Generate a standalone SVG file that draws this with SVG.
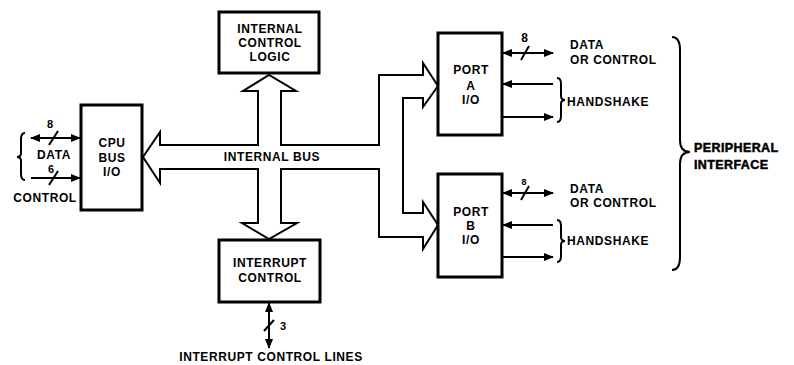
<svg xmlns="http://www.w3.org/2000/svg" width="794" height="365" viewBox="0 0 794 365">
<style>
text{font-family:"Liberation Sans",Arial,sans-serif;font-weight:bold;font-size:12px;letter-spacing:0.6px;fill:#000}
.c{text-anchor:middle}
.box{fill:#fff;stroke:#000;stroke-width:3}
.ln{fill:none;stroke:#000;stroke-width:2}
.bus{fill:#fff;stroke:#000;stroke-width:2;stroke-linejoin:miter}
.heavy{font-size:12.5px;stroke:#000;stroke-width:0.5;letter-spacing:0.4px}
.num{font-size:11px;letter-spacing:0}
</style>
<defs>
<marker id="ah" viewBox="0 0 10 8" refX="9" refY="4" markerWidth="10" markerHeight="8" markerUnits="userSpaceOnUse" orient="auto-start-reverse">
<path d="M0,0 L10,4 L0,8 Z" fill="#000"/>
</marker>
</defs>
<rect width="794" height="365" fill="#fff"/>
<g id="connectors">
<path id="internal-bus" class="bus" d="M143,157 L160,132 L160,145 L258,145 L258,91 L243,91 L269,75 L296,91 L281,91 L281,145 L379,145 L379,75 L423,75 L423,63 L438,86 L423,107 L423,98 L403,98 L403,213 L423,213 L423,202 L438,225 L423,249 L423,237 L379,237 L379,169 L281,169 L281,223 L297,223 L269,239 L242,223 L258,223 L258,169 L160,169 L160,183 Z"/>
<text class="c" x="272" y="161">INTERNAL BUS</text>
<line class="ln" x1="31" y1="138" x2="80" y2="138" marker-start="url(#ah)" marker-end="url(#ah)"/>
<line class="ln" x1="49" y1="145" x2="58" y2="131"/>
<text class="num c" x="50" y="128">8</text>
<line class="ln" x1="31" y1="178" x2="80" y2="178" marker-end="url(#ah)"/>
<line class="ln" x1="49" y1="185" x2="58" y2="171"/>
<text class="num c" x="51" y="173">6</text>
<path class="ln" d="M25,133 Q21,133 21,139 L21,153 Q21,157 17,157 Q21,157 21,161 L21,174 Q21,180 25,180"/>
<text class="c" x="54" y="159">DATA</text>
<text class="c" x="45" y="202">CONTROL</text>
<line class="ln" x1="503" y1="53" x2="553" y2="53" marker-start="url(#ah)" marker-end="url(#ah)"/>
<line class="ln" x1="521" y1="60" x2="529" y2="46"/>
<text class="c" x="525" y="42">8</text>
<line class="ln" x1="553" y1="84" x2="503" y2="84" marker-end="url(#ah)"/>
<line class="ln" x1="503" y1="117" x2="553" y2="117" marker-end="url(#ah)"/>
<path class="ln" d="M557,78 Q561,78 561,84 L561,96 Q561,100 565,100 Q561,100 561,104 L561,116 Q561,122 557,122"/>
<text x="570" y="49">DATA</text>
<text x="570" y="64">OR CONTROL</text>
<text x="567" y="106">HANDSHAKE</text>
<line class="ln" x1="503" y1="193" x2="553" y2="193" marker-start="url(#ah)" marker-end="url(#ah)"/>
<line class="ln" x1="521" y1="200" x2="529" y2="186"/>
<text class="num c" x="524" y="185" style="font-size:9px">8</text>
<line class="ln" x1="553" y1="225" x2="503" y2="225" marker-end="url(#ah)"/>
<line class="ln" x1="503" y1="257" x2="553" y2="257" marker-end="url(#ah)"/>
<path class="ln" d="M557,220 Q561,220 561,226 L561,237 Q561,241 565,241 Q561,241 561,245 L561,256 Q561,262 557,262"/>
<text x="570" y="193">DATA</text>
<text x="570" y="207">OR CONTROL</text>
<text x="567" y="245">HANDSHAKE</text>
<path class="ln" d="M672,37 Q680,37 680,50 L680,140 Q680,152 690,152 Q680,152 680,164 L680,257 Q680,270 672,270"/>
<text class="heavy" x="694" y="152">PERIPHERAL</text>
<text class="heavy" x="694" y="169">INTERFACE</text>
<line class="ln" x1="269" y1="303" x2="269" y2="348" marker-start="url(#ah)" marker-end="url(#ah)"/>
<line class="ln" x1="264" y1="331" x2="274" y2="320"/>
<text class="num" x="280" y="330">3</text>
<text class="c" x="271" y="361">INTERRUPT CONTROL LINES</text>
</g>
<g id="cpu-bus-io">
<rect class="box" x="81" y="105" width="61" height="105"/>
<text class="c" x="112" y="147">CPU</text>
<text class="c" x="112" y="162">BUS</text>
<text class="c" x="112" y="176">I/O</text>
</g>
<g id="internal-control-logic">
<rect class="box" x="219" y="12" width="100" height="61"/>
<text class="c" x="270" y="33">INTERNAL</text>
<text class="c" x="270" y="47">CONTROL</text>
<text class="c" x="270" y="61">LOGIC</text>
</g>
<g id="interrupt-control">
<rect class="box" x="219" y="240" width="101" height="62"/>
<text class="c" x="270" y="267">INTERRUPT</text>
<text class="c" x="270" y="282">CONTROL</text>
</g>
<g id="port-a-io">
<rect class="box" x="438" y="33" width="64" height="102"/>
<text class="c" x="471" y="74">PORT</text>
<text class="c" x="471" y="90">A</text>
<text class="c" x="471" y="104">I/O</text>
</g>
<g id="port-b-io">
<rect class="box" x="438" y="174" width="64" height="103"/>
<text class="c" x="471" y="216">PORT</text>
<text class="c" x="471" y="230">B</text>
<text class="c" x="471" y="244">I/O</text>
</g>
</svg>
